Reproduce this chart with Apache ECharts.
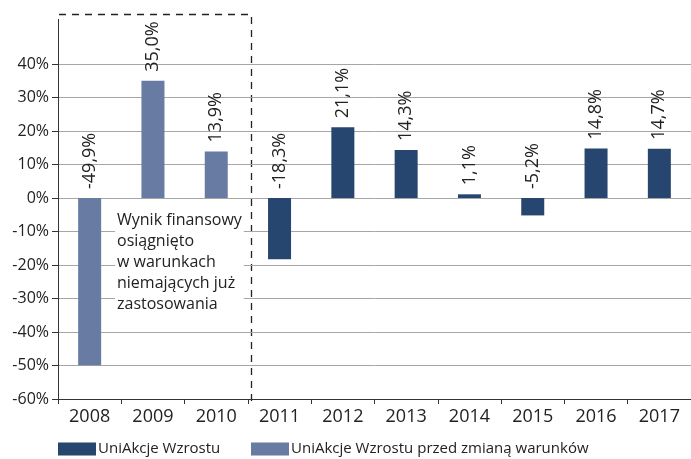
<!DOCTYPE html>
<html>
<head>
<meta charset="utf-8">
<script src="https://cdn.jsdelivr.net/npm/echarts@6/dist/echarts.min.js"></script>
<style>
  html, body { margin: 0; padding: 0; background: #fff; }
  #chart { width: 691px; height: 459px; }
</style>
</head>
<body>
<div id="chart"></div>
<script>
const years = ['2008', '2009', '2010', '2011', '2012', '2013', '2014', '2015', '2016', '2017'];
const wzrostu = [null, null, null, -18.3, 21.1, 14.3, 1.1, -5.2, 14.8, 14.7];
const przedZmiana = [-49.9, 35.0, 13.9, null, null, null, null, null, null, null];
const yTicks = [-60, -50, -40, -30, -20, -10, 0, 10, 20, 30, 40];

const FONT = '"Open Sans", sans-serif';
const DARK = '#26466f';
const LIGHT = '#677ba3';

const chart = echarts.init(document.getElementById('chart'));

const fmt = v => v.toFixed(1).replace('.', ',') + '%';

const barLabel = {
    show: true,
    position: 'top',
    rotate: 90,
    align: 'left',
    verticalAlign: 'middle',
    distance: 9,
    fontFamily: FONT,
    fontSize: 18,
    color: '#222',
    formatter: p => fmt(p.value)
};

const legendText = { fontFamily: FONT, fontSize: 15, lineHeight: 16, color: '#222', padding: [0, 0, 0, -3] };

const option = {
    animation: false,
    textStyle: { fontFamily: FONT },
    grid: { left: 58, top: 64, width: 642, bottom: 60 },
    legend: [
        {
            data: ['UniAkcje Wzrostu'],
            left: 58, top: 441, padding: 0,
            itemWidth: 38, itemHeight: 13,
            icon: 'rect',
            textStyle: legendText
        },
        {
            data: ['UniAkcje Wzrostu przed zmianą warunków'],
            left: 251, top: 441, padding: 0,
            itemWidth: 38, itemHeight: 13,
            icon: 'rect',
            textStyle: legendText
        }
    ],
    xAxis: {
        type: 'category',
        data: years,
        axisLine: { onZero: false, lineStyle: { color: '#333', width: 1 } },
        axisTick: { show: true, length: 5, lineStyle: { color: '#333' } },
        axisLabel: { fontFamily: FONT, fontSize: 18, color: '#222', margin: 9 }
    },
    yAxis: {
        type: 'value',
        min: -60,
        max: 40,
        interval: 10,
        axisLine: { show: true, lineStyle: { color: '#333', width: 1 } },
        axisTick: { show: true, length: 6, lineStyle: { color: '#333' } },
        axisLabel: {
            fontFamily: FONT, fontSize: 16, color: '#222', margin: 9,
            formatter: v => yTicks.includes(v) ? v + '%' : ''
        },
        splitLine: { lineStyle: { color: '#a6a6a6', width: 1 } }
    },
    series: [
        {
            name: 'UniAkcje Wzrostu',
            type: 'bar',
            data: wzrostu,
            barWidth: 23,
            barGap: '-100%',
            itemStyle: { color: DARK },
            label: barLabel
        },
        {
            name: 'UniAkcje Wzrostu przed zmianą warunków',
            type: 'bar',
            data: przedZmiana,
            barWidth: 23,
            itemStyle: { color: LIGHT },
            label: barLabel
        }
    ],
    graphic: [
        // axis line continues above the 40% mark
        { type: 'line', shape: { x1: 58.5, y1: 19, x2: 58.5, y2: 64 }, style: { stroke: '#333', lineWidth: 1 } },
        // dashed frame around the pre-change period
        { type: 'polyline', shape: { points: [[59, 14.5], [251.5, 14.5], [251.5, 401]] },
          style: { stroke: '#222', lineWidth: 1.3, lineDash: [7, 6], fill: null } },
        {
            type: 'text',
            left: 115, top: 208,
            z: 10,
            style: {
                text: 'Wynik finansowy\nosiągnięto\nw warunkach\nniemających już\nzastosowania',
                font: '16px "Open Sans", sans-serif',
                lineHeight: 21,
                fill: '#222',
                backgroundColor: '#fff',
                padding: [2, 2, 2, 2]
            }
        }
    ]
};

chart.setOption(option);
</script>
</body>
</html>
